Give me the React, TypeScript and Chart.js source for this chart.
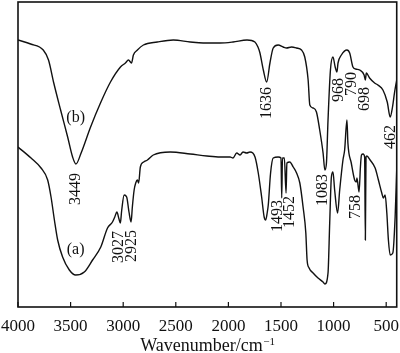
import React, { useEffect, useRef } from "react";
import { Chart, registerables } from "chart.js";
Chart.register(...registerables);

// Spectrum (b)
const wavenumbersB = [4000, 3880, 3760, 3710, 3660, 3595, 3528, 3481, 3449, 3400, 3310, 3216, 3121, 3026, 2979, 2950, 2921, 2903, 2865, 2808, 2676, 2524, 2363, 2240, 2079, 1956, 1823, 1748, 1719, 1700, 1668, 1636, 1605, 1574, 1527, 1479, 1447, 1400, 1352, 1305, 1274, 1242, 1226, 1195, 1163, 1132, 1100, 1083, 1068, 1053, 1030, 1006, 985, 968, 958, 926, 873, 847, 816, 790, 752, 710, 698, 689, 658, 610, 579, 531, 490, 462, 440, 420, 400];
const transmittanceB = [267, 263, 257, 247, 224, 197, 170, 150, 143, 154, 180, 204, 225, 240, 244, 247, 244, 252, 257, 262, 265, 267, 265, 264, 264, 265, 267, 265, 260, 254, 237, 225, 244, 259, 262, 260, 259, 260, 259, 257, 250, 227, 202, 199, 195, 177, 154, 137, 144, 187, 237, 250, 240, 235, 244, 252, 257, 254, 240, 238, 237, 232, 227, 234, 229, 224, 222, 217, 205, 190, 200, 215, 227];

// Spectrum (a)
const wavenumbersA = [4000, 3876, 3781, 3718, 3686, 3654, 3623, 3576, 3512, 3452, 3370, 3291, 3213, 3149, 3102, 3080, 3060, 3040, 3027, 3015, 2991, 2967, 2945, 2925, 2913, 2896, 2881, 2865, 2853, 2837, 2805, 2770, 2714, 2553, 2363, 2205, 2079, 1984, 1956, 1921, 1889, 1861, 1826, 1795, 1747, 1716, 1684, 1660, 1645, 1630, 1621, 1599, 1574, 1527, 1500, 1493, 1486, 1468, 1452, 1444, 1416, 1384, 1352, 1321, 1290, 1264, 1252, 1233, 1195, 1148, 1100, 1083, 1053, 1037, 1021, 1006, 990, 962, 942, 911, 895, 873, 864, 832, 800, 784, 778, 758, 745, 735, 720, 705, 698, 692, 684, 653, 605, 574, 542, 527, 510, 494, 479, 462, 437, 415, 400];
const transmittanceA = [160, 149, 139, 127, 110, 87, 67, 50, 37, 32, 35, 47, 60, 79, 85, 90, 95, 88, 84, 96, 112, 110, 95, 85, 100, 117, 124, 127, 124, 140, 145, 147, 152, 155, 153, 151, 150, 150, 149, 154, 152, 155, 154, 155, 150, 134, 110, 90, 87, 95, 102, 134, 149, 150, 149, 109, 149, 149, 114, 144, 145, 140, 134, 124, 100, 74, 47, 39, 34, 29, 25, 23, 34, 84, 130, 135, 117, 94, 117, 147, 157, 187, 164, 144, 127, 125, 129, 115, 140, 152, 153, 150, 67, 150, 151, 147, 139, 127, 114, 109, 112, 94, 67, 52, 54, 90, 137];

const xTicks = [4000, 3500, 3000, 2500, 2000, 1500, 1000, 500];

// Peak annotations: text, position (wavenumber), height
const peakTexts = ["3449", "3027", "2925", "1636", "1493", "1452", "1083", "968", "790", "698", "758", "462"];
const peakX = [3452, 3042, 2922, 1637, 1534, 1416, 1103, 952, 828, 705, 791, 459];
const peakY = [118, 60, 61, 204, 91, 95, 117, 217, 223, 208, 100, 170];

const curveNames = ["(b)", "(a)"];
const curveNameX = [3452, 3452];
const curveNameY = [189, 57];

const SERIF = "'Liberation Serif', 'Times New Roman', 'DejaVu Serif', serif";

const overlay = {
  id: "overlay",
  afterDraw(chart: any) {
    const ctx = chart.ctx as CanvasRenderingContext2D;
    const area = chart.chartArea;
    const xs = chart.scales.x;
    const ys = chart.scales.y;
    ctx.save();
    ctx.strokeStyle = "#111";
    ctx.lineWidth = 1.6;
    ctx.strokeRect(area.left, area.top, area.right - area.left, area.bottom - area.top);
    ctx.lineWidth = 1.2;
    xTicks.forEach((v) => {
      const px = xs.getPixelForValue(v);
      ctx.beginPath();
      ctx.moveTo(px, area.bottom);
      ctx.lineTo(px, area.bottom - 5);
      ctx.stroke();
    });
    ctx.fillStyle = "#111";
    ctx.font = `16px ${SERIF}`;
    ctx.textAlign = "center";
    ctx.textBaseline = "middle";
    peakTexts.forEach((t, i) => {
      const px = xs.getPixelForValue(peakX[i]);
      const py = ys.getPixelForValue(peakY[i]);
      ctx.save();
      ctx.translate(px, py);
      ctx.rotate(-Math.PI / 2);
      ctx.fillText(t, 0, 0);
      ctx.restore();
    });
    curveNames.forEach((t, i) => {
      ctx.fillText(t, xs.getPixelForValue(curveNameX[i]), ys.getPixelForValue(curveNameY[i]));
    });
    // axis title
    const main = "Wavenumber/cm";
    const sup = "\u22121";
    ctx.textBaseline = "alphabetic";
    ctx.textAlign = "left";
    ctx.font = `18px ${SERIF}`;
    const w1 = ctx.measureText(main).width;
    ctx.font = `11px ${SERIF}`;
    const w2 = ctx.measureText(sup).width;
    const cx = (area.left + area.right) / 2;
    const start = cx - (w1 + w2) / 2;
    ctx.font = `18px ${SERIF}`;
    ctx.fillText(main, start, 351);
    ctx.font = `11px ${SERIF}`;
    ctx.fillText(sup, start + w1 + 0.5, 345);
    ctx.restore();
  },
};

export default function App() {
  const ref = useRef<HTMLCanvasElement>(null);
  useEffect(() => {
    document.body.style.margin = "0";
    const toPts = (xs: number[], ys: number[]) => xs.map((x, i) => ({ x, y: ys[i] }));
    const chart = new Chart(ref.current as HTMLCanvasElement, {
      type: "line",
      data: {
        datasets: [
          {
            label: "(b)",
            data: toPts(wavenumbersB, transmittanceB),
            borderColor: "#111",
            borderWidth: 1.4,
            pointRadius: 0,
            cubicInterpolationMode: "monotone",
            fill: false,
          },
          {
            label: "(a)",
            data: toPts(wavenumbersA, transmittanceA),
            borderColor: "#111",
            borderWidth: 1.4,
            pointRadius: 0,
            cubicInterpolationMode: "monotone",
            fill: false,
          },
        ],
      },
      options: {
        responsive: false,
        animation: false,
        devicePixelRatio: 1,
        layout: { padding: { left: 17, right: 3, top: 2, bottom: 0 } },
        plugins: { legend: { display: false }, tooltip: { enabled: false } },
        scales: {
          x: {
            type: "linear",
            reverse: true,
            min: 400,
            max: 4000,
            grid: { display: false },
            border: { display: false },
            afterBuildTicks: (scale: any) => {
              scale.ticks = xTicks.map((v) => ({ value: v }));
            },
            afterFit: (scale: any) => {
              scale.height = 46;
            },
            ticks: {
              autoSkip: false,
              maxRotation: 0,
              includeBounds: false,
              padding: 1,
              color: "#111",
              font: { family: SERIF, size: 17 },
              callback: (v: any) => String(v),
            },
          },
          y: {
            display: false,
            min: 0,
            max: 305,
          },
        },
      },
      plugins: [overlay],
    });
    return () => chart.destroy();
  }, []);
  return (
    <div style={{ width: 400, height: 353, position: "relative" }}>
      <canvas ref={ref} width={400} height={353} />
    </div>
  );
}
